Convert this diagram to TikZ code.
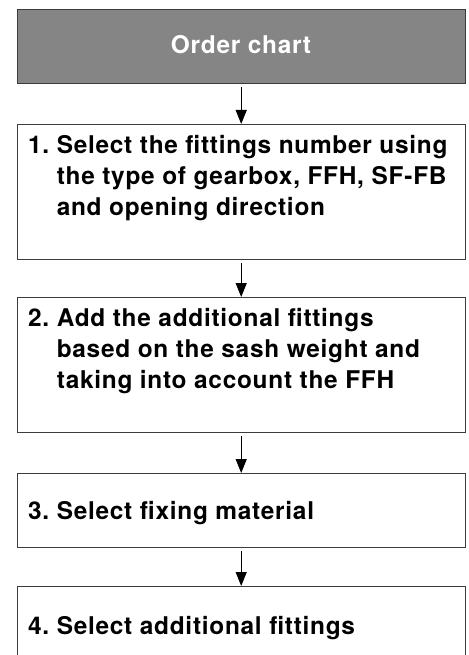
\documentclass[tikz,border=0pt]{standalone}
\usepackage{fontspec}
\setmainfont{TeX Gyre Heros}
\newfontfamily\chartfont{TeX Gyre Heros}[LetterSpace=3]
\usetikzlibrary{arrows.meta}
\definecolor{hdrgray}{HTML}{858585}
\definecolor{edge}{HTML}{3C3C3C}
\tikzset{
  box/.style={draw=edge, line width=1.4bp, minimum width=448bp, inner sep=0pt, anchor=north west},
  hdr/.style={box, fill=hdrgray},
  txt/.style={anchor=base west, inner sep=0pt, align=left, font=\chartfont\fontsize{24.5}{31}\selectfont\bfseries},
  flow/.style={draw=black, line width=1.2bp, -{Triangle[width=11bp,length=14bp]}, shorten <=3bp},
}
\begin{document}
\begin{tikzpicture}[x=1bp,y=-1bp]
\clip (0,0) rectangle (469,655);
\fill[white] (0,0) rectangle (469,655);
\node[hdr, minimum height=74bp] (h) at (16.5,9) {};
\node[anchor=base, inner sep=0pt, text=white, font=\chartfont\fontsize{24.5}{28}\selectfont\bfseries] (ht) at (241,54) {Order chart};
\node[box, minimum height=135bp] (b1) at (16.5,124) {};
\node[box, minimum height=135bp] (b2) at (16.5,297) {};
\node[box, minimum height=74bp] (b3) at (16.5,473) {};
\node[box, minimum height=120bp] (b4) at (16.5,586) {};
\node[txt] (t1) at (28,215) {1.~Select the fittings number using\\\phantom{1.~}the type of gearbox, FFH, SF-FB\\\phantom{1.~}and opening direction};
\node[txt] (t2) at (28,388) {2.~Add the additional fittings\\\phantom{2.~}based on the sash weight and\\\phantom{2.~}taking into account the FFH};
\node[txt] (t3) at (28,519) {3.~Select fixing material};
\node[txt] (t4) at (28,634) {4.~Select additional fittings};
\draw[flow] (h.south) -- (b1.north);
\draw[flow] (b1.south) -- (b2.north);
\draw[flow] (b2.south) -- (b3.north);
\draw[flow] (b3.south) -- (b4.north);
\end{tikzpicture}
\end{document}
